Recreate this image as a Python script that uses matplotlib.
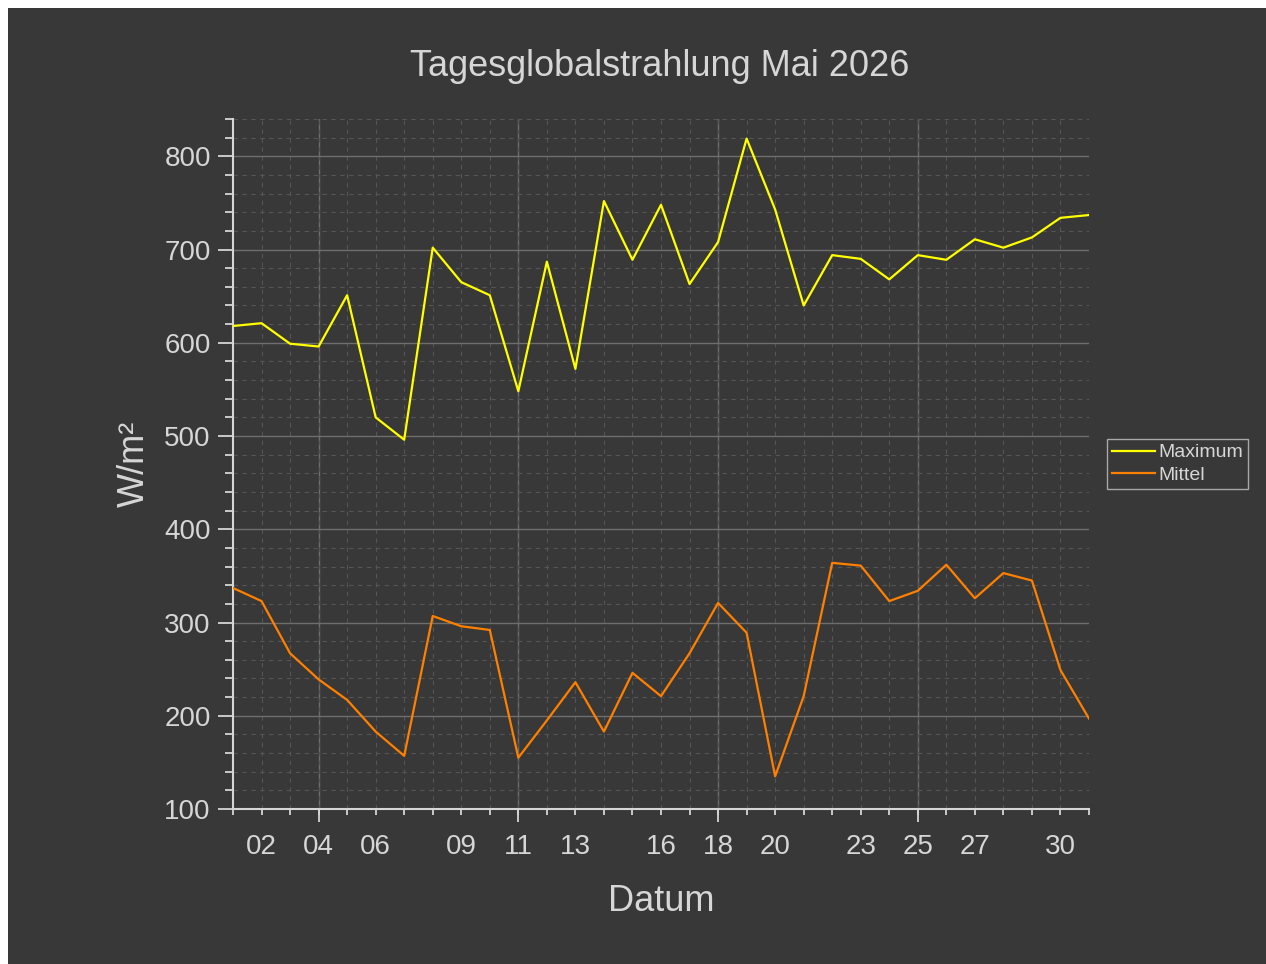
import numpy as np
import matplotlib
matplotlib.use('Agg')
import matplotlib.pyplot as plt
from matplotlib.patches import Rectangle
from matplotlib.ticker import FixedLocator, FuncFormatter

# Tagesglobalstrahlung Mai 2026, values in W/m2 per day
days = list(range(1, 32))
maximum = [618, 621, 599, 596, 651, 520, 496, 702, 665, 651,
           548, 687, 572, 752, 689, 748, 663, 708, 819, 743,
           640, 694, 690, 668, 694, 689, 711, 702, 713, 734, 737]
mittel = [337, 323, 267, 239, 217, 183, 157, 307, 296, 292,
          155, 195, 236, 183, 246, 221, 267, 321, 289, 135,
          221, 364, 361, 323, 334, 362, 326, 353, 345, 249, 197]

week_days = [4, 11, 18, 25]
label_days = [2, 4, 6, 9, 11, 13, 16, 18, 20, 23, 25, 27, 30]

bg = '#383838'
fg = '#d6d6d6'

plt.rcParams['font.family'] = ['Liberation Sans', 'DejaVu Sans']

fig = plt.figure(figsize=(12.66, 9.64), dpi=100, facecolor='white')
# dark panel, white strip only on left and top
fig.patches.append(Rectangle((8 / 1266, 0), 1, 1 - 8 / 964, transform=fig.transFigure,
                             facecolor=bg, edgecolor='none', zorder=-1))

ax = fig.add_axes([233 / 1266, 155 / 964, 856 / 1266, 690 / 964])
ax.set_facecolor(bg)

ax.plot(days, maximum, color='#ffff00', lw=1.6, label='Maximum', zorder=3)
ax.plot(days, mittel, color='#ff8000', lw=1.6, label='Mittel', zorder=3)

ax.set_xlim(1, 31)
ax.set_ylim(100, 840)

# x axis: long ticks each week, short ticks each day
ax.xaxis.set_major_locator(FixedLocator(week_days))
ax.xaxis.set_minor_locator(FixedLocator(days))
ax.xaxis.remove_overlapping_locs = False
ax.xaxis.set_major_formatter(FuncFormatter(lambda v, p: ''))
ax.xaxis.set_minor_formatter(FuncFormatter(
    lambda v, p: '%02d' % int(round(v)) if int(round(v)) in label_days else ''))

ax.yaxis.set_major_locator(FixedLocator(np.arange(100, 801, 100)))
ax.yaxis.set_minor_locator(FixedLocator(np.arange(100, 841, 20)))

ax.tick_params(axis='x', which='major', length=9.5, width=1.3, color=fg, direction='out')
ax.tick_params(axis='x', which='minor', length=4, width=1.3, color=fg, direction='out',
               labelsize=20, labelcolor=fg, pad=14)
ax.tick_params(axis='y', which='major', length=11, width=1.3, color=fg, direction='out',
               labelsize=20, labelcolor=fg, pad=5)
ax.tick_params(axis='y', which='minor', length=6, width=1.3, color=fg, direction='out')

ax.grid(which='major', color='#6e6e6e', lw=1.0, ls='-', zorder=1)
ax.grid(which='minor', color='#555555', lw=0.8, ls=(0, (4, 4)), zorder=0)

for s in ['top', 'right']:
    ax.spines[s].set_visible(False)
for s in ['left', 'bottom']:
    ax.spines[s].set_color(fg)
    ax.spines[s].set_linewidth(1.5)

ax.set_xlabel('Datum', fontsize=26, color=fg, labelpad=17)
ax.set_ylabel('W/m²', fontsize=26, color=fg, labelpad=9)
fig.text(660 / 1266, 1 - 66 / 964, 'Tagesglobalstrahlung Mai 2026', fontsize=26,
         color=fg, ha='center', va='center')

leg = ax.legend(loc='upper left', bbox_to_anchor=(1107 / 1266, 1 - 439 / 964),
                bbox_transform=fig.transFigure, borderaxespad=0, fontsize=14,
                frameon=True, fancybox=False, framealpha=1, facecolor=bg,
                edgecolor='#a8a8a8', handlelength=2.2, handletextpad=0.2,
                borderpad=0.25, labelspacing=0.25)
leg.get_frame().set_linewidth(1.0)
for t in leg.get_texts():
    t.set_color(fg)

fig.savefig('out.png', dpi=100, facecolor=fig.get_facecolor())
